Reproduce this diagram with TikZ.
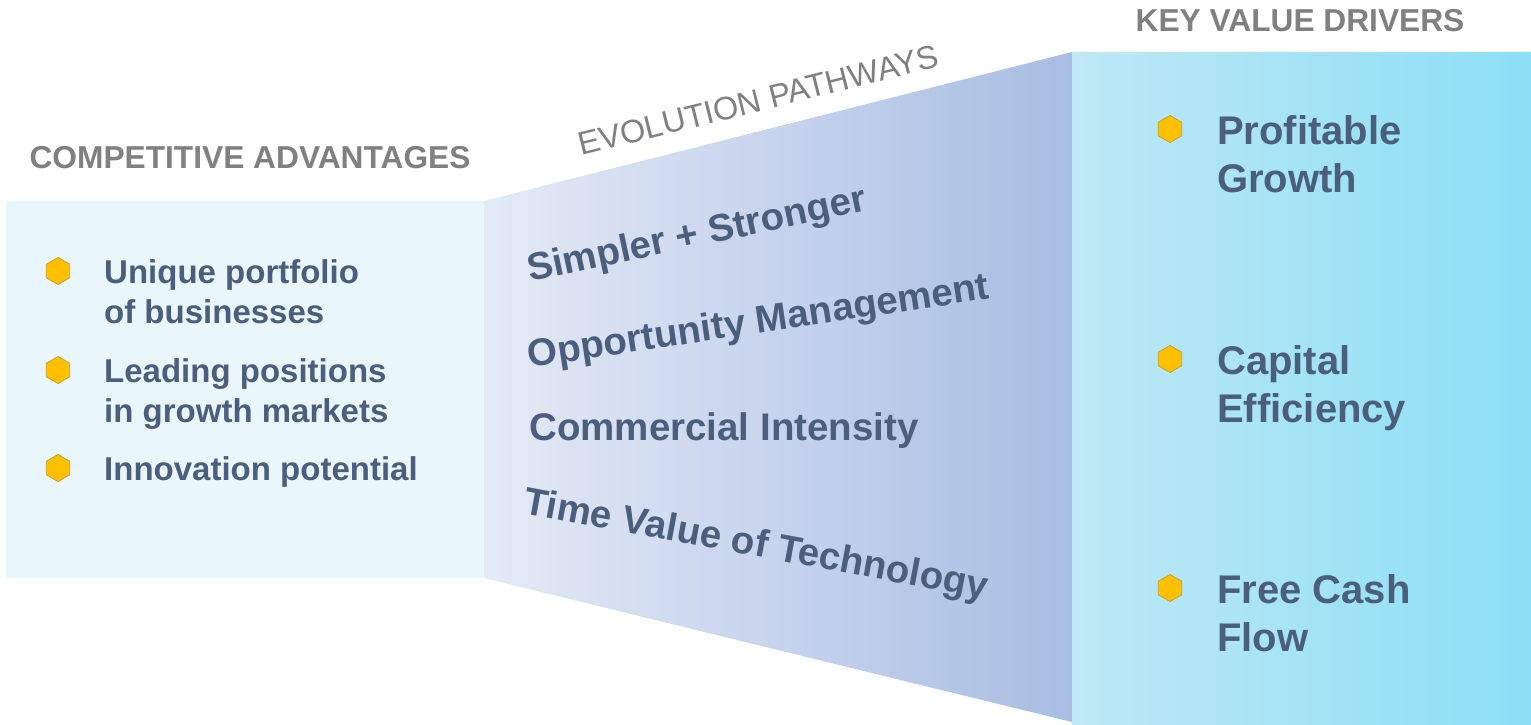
\documentclass[tikz,border=0pt]{standalone}
\usepackage{fontspec}
\setmainfont{Liberation Sans}
\usetikzlibrary{shapes.geometric}
\definecolor{titlegray}{HTML}{808080}
\definecolor{itemblue}{HTML}{4B5F7D}
\definecolor{hexgold}{HTML}{FFC000}
\definecolor{hexedge}{HTML}{C9A227}
\definecolor{leftbg}{HTML}{E9F6FB}
\definecolor{midleft}{HTML}{E4EAF6}
\definecolor{midright}{HTML}{A8BDE3}
\definecolor{rightleft}{HTML}{BEE8F5}
\definecolor{rightright}{HTML}{8CDFF6}

\begin{document}
\begin{tikzpicture}[x=1pt, y=-1pt,
  every node/.style={inner sep=0pt},
  hexbullet/.style={regular polygon, regular polygon sides=6, shape border rotate=30,
    minimum size=27pt, fill=hexgold, draw=hexedge, line width=0.8pt},
  heading/.style={font=\fontsize{31.7}{36}\selectfont\bfseries, text=titlegray},
  leftitem/.style={font=\fontsize{33}{40}\selectfont\bfseries, text=itemblue, align=left, anchor=base west},
  rightitem/.style={font=\fontsize{40}{48}\selectfont\bfseries, text=itemblue, align=left, anchor=base west},
  pathway/.style={font=\fontsize{38.5}{44}\selectfont\bfseries, text=itemblue, anchor=base}]
    \useasboundingbox (0,0) rectangle (1531,724);
    % Panels
    \fill[leftbg] (6,201) rectangle (484,578);
    \shade[left color=midleft, right color=midright] (484,201) -- (1072,52) -- (1072,722) -- (484,578) -- cycle;
    \shade[left color=rightleft, right color=rightright] (1072,52) rectangle (1531,724);
    % Headings
    \node[heading] (compadv) at (250,158) {COMPETITIVE ADVANTAGES};
    \node[heading] (keydrv) at (1300,21) {KEY VALUE DRIVERS};
    \node[heading, font=\fontsize{32.5}{36}\selectfont, anchor=base, rotate=14] (evopath) at (761,111) {EVOLUTION PATHWAYS};
    % Pathways
    \node[pathway, rotate=12] (simpler) at (699,246) {Simpler + Stronger};
    \node[pathway, rotate=8.5] (oppmgmt) at (760,333) {Opportunity Management};
    \node[pathway] (commint) at (724,440) {Commercial Intensity};
    \node[pathway, rotate=-10.5] (timeval) at (754,556) {Time Value of Technology};
    % Bullets
    \foreach \y [count=\i] in {271,370,468}
        \node[hexbullet] (lb\i) at (58,\y) {};
    \foreach \y [count=\i] in {129,359,588}
        \node[hexbullet] (rb\i) at (1170,\y) {};
    % Items (anchored on the baseline of the last line)
    \node[leftitem] (unique) at (104,323) {Unique portfolio\\of businesses};
    \node[leftitem] (leading) at (104,422) {Leading positions\\in growth markets};
    \node[leftitem] (innov) at (104,480) {Innovation potential};
    \node[rightitem] (profit) at (1217,192) {Profitable\\Growth};
    \node[rightitem] (capital) at (1217,422) {Capital\\Efficiency};
    \node[rightitem] (freecash) at (1217,651) {Free Cash\\Flow};
\end{tikzpicture}
\end{document}
